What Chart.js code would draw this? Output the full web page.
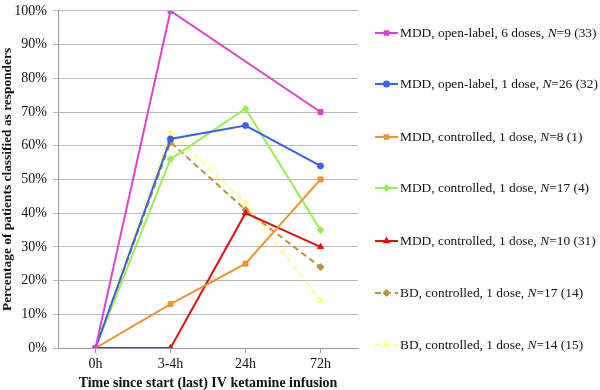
<!DOCTYPE html>
<html>
<head>
<meta charset="utf-8">
<script src="https://cdn.jsdelivr.net/npm/chart.js@4"></script>
<style>
  body { margin: 0; background: #fff; }
  #wrap { width: 600px; height: 390px; }
</style>
</head>
<body>
<div id="wrap"><canvas id="line-chart" width="600" height="390"></canvas></div>
<script>
let times = ['0h', '3-4h', '24h', '72h'];

// percentage of responders per group
let mddOpen6 = [0, 100, null, 70];
let mddOpen1 = [0, 62, 66, 54];
let mddCtrl8 = [0, 13, 25, 50];
let mddCtrl17 = [0, 56, 71, 35];
let mddCtrl10 = [0, 0, 40, 30];
let bdCtrl17 = [0, 61, 41, 24];
let bdCtrl14 = [0, 64, 43, 14];

let groups = ['MDD, open-label, 6 doses, ', 'MDD, open-label, 1 dose, ', 'MDD, controlled, 1 dose, ',
  'MDD, controlled, 1 dose, ', 'MDD, controlled, 1 dose, ', 'BD, controlled, 1 dose, ', 'BD, controlled, 1 dose, '];
let nText = ['=9 (33)', '=26 (32)', '=8 (1)', '=17 (4)', '=10 (31)', '=17 (14)', '=14 (15)'];

let font = "'Liberation Serif', 'Times New Roman', serif";

let mk = (data, color, style, dashed, i) => ({
  data: data,
  label: groups[i] + 'N' + nText[i],
  borderColor: color,
  backgroundColor: color,
  borderWidth: 2,
  borderDash: dashed ? [6, 4] : [],
  pointStyle: style,
  pointRadius: style == 'circle' ? 3 : 3.5,
  pointBorderWidth: 1,
  spanGaps: true,
  tension: 0,
  fill: false
});

let datasets = [
  mk(mddOpen6, '#dd44cc', 'rect', false, 0),
  mk(mddOpen1, '#3b62e6', 'circle', false, 1),
  mk(mddCtrl8, '#ea9530', 'rect', false, 2),
  mk(mddCtrl17, '#99ee55', 'rectRot', false, 3),
  mk(mddCtrl10, '#dd1111', 'triangle', false, 4),
  mk(bdCtrl17, '#b8953a', 'rectRot', true, 5),
  mk(bdCtrl14, '#ffff88', 'triangle', true, 6)
];

let legendYs = [33, 84, 137, 188, 241, 293, 345];

let sideLegend = {
  id: 'sideLegend',
  afterDraw(chart) {
    let ctx = chart.ctx;
    chart.data.datasets.forEach((ds, i) => {
      let y = legendYs[i];
      ctx.save();
      ctx.strokeStyle = ds.borderColor;
      ctx.lineWidth = 2;
      ctx.setLineDash(ds.borderDash);
      ctx.beginPath();
      ctx.moveTo(375, y);
      ctx.lineTo(398, y);
      ctx.stroke();
      ctx.setLineDash([]);
      ctx.fillStyle = ds.backgroundColor;
      ctx.strokeStyle = ds.borderColor;
      Chart.helpers.drawPoint(ctx, { pointStyle: ds.pointStyle, radius: 2.5, borderWidth: 1 }, 386.5, y);
      ctx.fillStyle = '#111';
      ctx.textBaseline = 'middle';
      let x = 400;
      ctx.font = '13.4px ' + font;
      ctx.fillText(groups[i], x, y);
      x += ctx.measureText(groups[i]).width;
      ctx.font = 'italic 13.4px ' + font;
      ctx.fillText('N', x, y);
      x += ctx.measureText('N').width;
      ctx.font = '13.4px ' + font;
      ctx.fillText(nText[i], x, y);
      ctx.restore();
    });
  }
};

new Chart(document.getElementById('line-chart'), {
  type: 'line',
  data: { labels: times, datasets: datasets },
  plugins: [sideLegend],
  options: {
    responsive: false,
    animation: { duration: 0 },
    events: [],
    layout: { padding: { left: 0, right: 242, top: 5, bottom: 0 } },
    plugins: { legend: { display: false }, tooltip: { enabled: false } },
    scales: {
      x: {
        offset: true,
        afterFit: s => { s.height = 42; },
        grid: { drawOnChartArea: false, drawTicks: true, tickLength: 5, color: '#999' },
        border: { color: '#999' },
        ticks: { color: '#111', font: { family: font, size: 14 }, padding: 3 },
        title: { display: true, text: 'Time since start (last) IV ketamine infusion', color: '#111',
          font: { family: font, size: 14, weight: 'bold', lineHeight: 1 }, padding: { top: 2, bottom: 0 } }
      },
      y: {
        min: 0,
        max: 100,
        afterFit: s => { s.width = 58; },
        grid: { color: '#b8b8b8', tickLength: 5 },
        border: { color: '#999' },
        ticks: { stepSize: 10, color: '#111', callback: v => v + '%',
          font: { family: font, size: 14, lineHeight: 0.7 }, padding: 6 },
        title: { display: true, text: 'Percentage of patients classified as responders', color: '#111',
          font: { family: font, size: 13.4, weight: 'bold', lineHeight: 1 }, padding: { top: 1, bottom: 2 } }
      }
    }
  }
});
</script>
</body>
</html>
